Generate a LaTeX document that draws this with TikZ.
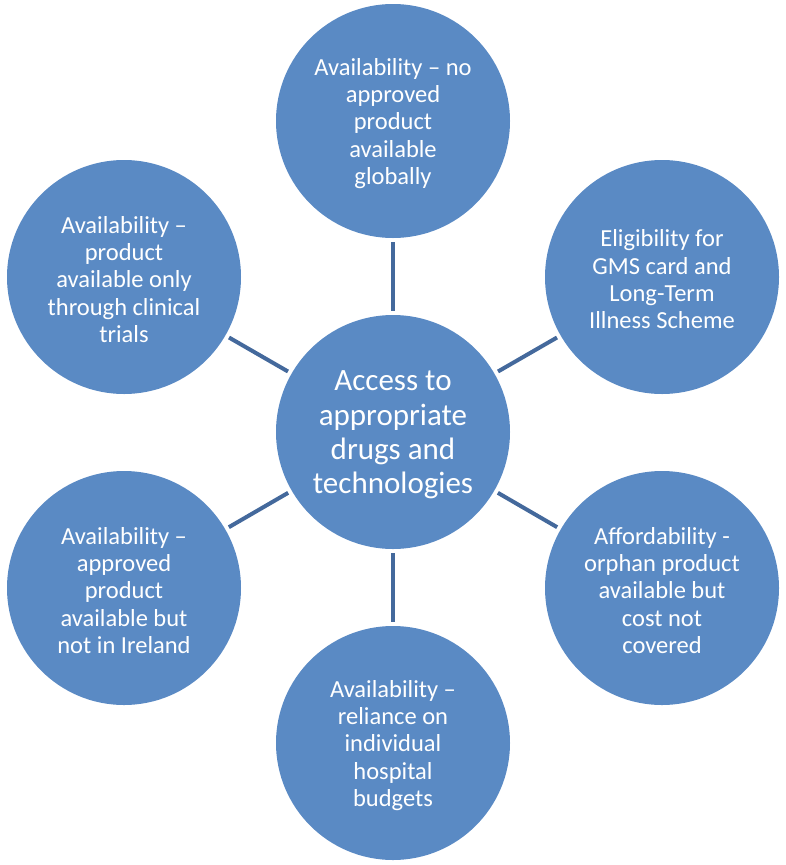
\documentclass[tikz,border=0pt]{standalone}
\usepackage{fontspec}
\setmainfont{Carlito}
\definecolor{circfill}{HTML}{5A8AC4}
\definecolor{linkcol}{HTML}{44699C}
\begin{document}
\begin{tikzpicture}[x=1pt,y=-1pt,
  bubble/.style={circle,fill=circfill,minimum size=234pt,inner sep=0pt},
  btext/.style={text=white,align=center,inner sep=0pt,yshift=-2.5pt,font=\fontsize{24.5}{27.3}\selectfont},
  htext/.style={text=white,align=center,inner sep=0pt,yshift=-3pt,font=\fontsize{31}{34.2}\selectfont},
  link/.style={draw=linkcol,line width=4pt,shorten <=4pt,shorten >=4pt}]
\useasboundingbox (0,0) rectangle (785,865);
\node[bubble,label={[htext]center:Access to\\appropriate\\drugs and\\technologies}] (c) at (393,432) {};
\node[bubble,label={[btext]center:Availability – no\\approved\\product\\available\\globally}] (t) at (393,121) {};
\node[bubble,label={[btext]center:Eligibility for\\GMS card and\\Long-Term\\Illness Scheme}] (tr) at (662,277) {};
\node[bubble,label={[btext]center:Affordability -\\orphan product\\available but\\cost not\\covered}] (br) at (662,588) {};
\node[bubble,label={[btext]center:Availability –\\reliance on\\individual\\hospital\\budgets}] (b) at (393,743) {};
\node[bubble,label={[btext]center:Availability –\\approved\\product\\available but\\not in Ireland}] (bl) at (124,588) {};
\node[bubble,label={[btext]center:Availability –\\product\\available only\\through clinical\\trials}] (tl) at (124,277) {};
\foreach \n in {t,tr,br,b,bl,tl} \draw[link] (c) -- (\n);
\end{tikzpicture}
\end{document}
